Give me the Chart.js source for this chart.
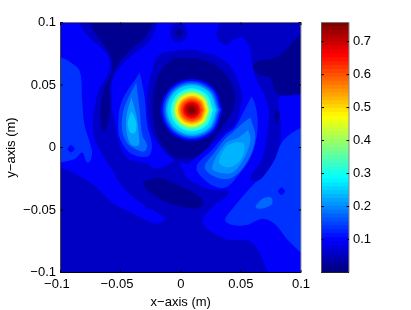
<!DOCTYPE html>
<html>
<head>
<meta charset="utf-8">
<style>
body { margin: 0; background: #fff; }
canvas { position: absolute; left: 0; top: 0; }
</style>
<script src="https://cdn.jsdelivr.net/npm/chart.js@4"></script>
</head>
<body>
<canvas id="field" width="411" height="310"></canvas>
<canvas id="bar" width="411" height="310"></canvas>
<script>
// tick values and labels
const xTickValues = [-0.1, -0.05, 0, 0.05, 0.1];
const xTickLabels = ['\u22120.1  ', '\u22120.05  ', '0', '0.05', '0.1'];
const yTickValues = [-0.1, -0.05, 0, 0.05, 0.1];
const yTickLabels = ['\u22120.1', '\u22120.05', '0', '0.05', '0.1'];
const barTickValues = [0.1, 0.2, 0.3, 0.4, 0.5, 0.6, 0.7];
const barTickLabels = ['0.1', '0.2', '0.3', '0.4', '0.5', '0.6', '0.7'];

// top edge of each colour step in the colour bar
const barSteps = [.0118,.0237,.0355,.0474,.0592,.0711,.0829,.0948,.1066,.1184,.1303,.1421,.1540,.1658,.1777,.1895,
  .2014,.2132,.2251,.2369,.2487,.2606,.2724,.2843,.2961,.3080,.3198,.3317,.3435,.3553,.3672,.3790,
  .3909,.4027,.4146,.4264,.4383,.4501,.4620,.4738,.4856,.4975,.5093,.5212,.5330,.5449,.5567,.5686,
  .5804,.5923,.6041,.6159,.6278,.6396,.6515,.6633,.6752,.6870,.6989,.7107,.7226,.7344,.7463,.758];

// contour outlines, x,y in metres
const base = [[-0.2,-0.2],[0.2,-0.2],[0.2,0.2],[-0.2,0.2]];
const upper = [[-.105,-.016],[-.100,-.016],[-.082,-.024],[-.070,-.032],[-.057,-.044],[-.037,-.054],[-.020,-.061],[-.013,-.057],[-.023,-.050],[-.043,-.037],[-.055,-.020],[-.044,-.018],[-.016,-.016],[-.003,-.010],[.003,-.020],[.020,-.032],[.037,-.032],[.039,-.038],[.028,-.046],[.018,-.060],[.037,-.073],[.059,-.076],[.073,-.100],[.083,-.115],[.108,-.115],[.108,.106],[-.109,.106]];
const leftPatch = [[-.105,.072],[-.100,.072],[-.093,.069],[-.084,.061],[-.082,.037],[-.080,.018],[-.074,-.002],[-.075,-.010],[-.078,-.012],[-.082,-.004],[-.088,-.009],[-.100,-.012],[-.105,-.012]];
const leftSpot = [[-.088,-.001],[-.091,.002],[-.094,-.001],[-.091,-.004]];
const topDark = [[-.088,.104],[-.076,.088],[-.063,.077],[-.059,.069],[-.060,.060],[-.068,.046],[-.072,.030],[-.073,.022],[-.072,.008],[-.066,-.004],[-.057,-.018],[-.045,-.032],[-.034,-.042],[-.026,-.049],[-.013,-.030],[-.026,-.014],[-.032,-.012],[-.045,-.008],[-.052,.006],[-.055,.022],[-.057,.030],[-.057,.053],[-.053,.061],[-.043,.072],[-.026,.085],[-.018,.101],[-.013,.106]];
const topSpot = [[-.062,.064],[-.065,.067],[-.068,.064],[-.065,.061]];
const topDarkest = [[-.080,.106],[-.070,.090],[-.061,.078],[-.057,.069],[-.058,.058],[-.064,.046],[-.067,.028],[-.064,.012],[-.059,.028],[-.059,.050],[-.054,.064],[-.043,.077],[-.030,.088],[-.022,.101],[-.019,.106]];
const rightDark = [[.034,.106],[.030,.092],[.032,.085],[.038,.082],[.045,.087],[.052,.088],[.058,.078],[.059,.068],[.063,.054],[.070,.041],[.073,.030],[.072,.022],[.072,.012],[.068,-.008],[.060,-.020],[.058,-.026],[.068,-.024],[.078,-.010],[.083,.006],[.083,.022],[.081,.038],[.084,.041],[.099,.042],[.109,.044],[.109,.106]];
const rightDarkest = [[.109,.098],[.099,.090],[.081,.073],[.064,.069],[.060,.064],[.066,.058],[.074,.056],[.078,.046],[.082,.042],[.099,.043],[.109,.045]];
const rightSpot = [[.082,.025],[.080,.031],[.078,.025],[.080,.019]];
const crownBlob = [[.006,.092],[.003,.098],[-.003,.100],[-.008,.096],[-.008,.088],[-.003,.084],[.003,.086]];
const crownSpot = [[.002,.092],[-.001,.095],[-.004,.092],[-.001,.089]];
const ringOuter = [[-.001,.078],[.012,.078],[.037,.069],[.049,.050],[.051,.037],[.045,.018],[.035,.004],[.020,-.010],[-.001,-.012],[-.018,.002],[-.026,.018],[-.028,.040],[-.024,.061],[-.018,.074]];
const ringInner = [[-.005,.072],[.020,.070],[.038,.058],[.045,.042],[.043,.029],[.031,.012],[.016,-.006],[-.005,-.008],[-.019,.008],[-.023,.026],[-.022,.048],[-.015,.064]];
const lowerRight = [[.109,.018],[.101,.016],[.093,.012],[.084,.004],[.078,-.010],[.068,-.024],[.061,-.029],[.043,-.049],[.037,-.058],[.043,-.062],[.055,-.062],[.068,-.057],[.078,-.061],[.089,-.074],[.101,-.085],[.109,-.092]];
const lowerBlob = [[.062,-.047],[.068,-.041],[.075,-.040],[.076,-.045],[.071,-.048],[.064,-.049]];
const lowerSpotA = [[.087,-.035],[.084,-.032],[.081,-.035],[.084,-.038]];
const lowerSpotB = [[.067,-.065],[.063,-.061],[.059,-.065],[.063,-.069]];
const hollow = [[-.032,-.028],[-.018,-.024],[-.005,-.029],[.012,-.037],[.019,-.044],[.012,-.049],[-.005,-.046],[-.018,-.041],[-.028,-.034]];
const leftLobe3 = [[-.034,.060],[-.049,.037],[-.052,.018],[-.050,.006],[-.041,-.005],[-.027,-.007],[-.024,.002],[-.028,.018],[-.030,.040]];
const leftLobe4 = [[-.037,.052],[-.047,.032],[-.049,.016],[-.045,.004],[-.036,-.002],[-.030,-.003],[-.028,.002],[-.032,.010],[-.034,.029]];
const leftLobe5 = [[-.041,.040],[-.045,.026],[-.045,.012],[-.041,.002],[-.035,.002],[-.035,.012],[-.037,.026]];
const leftLobe6 = [[-.041,.029],[-.044,.020],[-.042,.012],[-.038,.012],[-.037,.020]];
const rightLobe2 = [[.056,.046],[.050,.033],[.046,.020],[.037,.012],[.024,.001],[.003,-.020],[.020,-.032],[.037,-.034],[.051,-.028],[.060,-.020],[.068,-.008],[.072,.012],[.073,.030],[.068,.042]];
const rightLobe3 = [[.059,.041],[.053,.030],[.045,.016],[.037,.010],[.026,-.002],[.013,-.016],[.024,-.029],[.037,-.032],[.048,-.022],[.058,-.008],[.063,.008],[.064,.022],[.062,.034]];
const rightLobe4 = [[.058,.024],[.052,.020],[.043,.012],[.037,.007],[.028,-.004],[.020,-.016],[.030,-.024],[.043,-.024],[.056,-.010],[.062,.008]];
const rightLobe5 = [[.056,.014],[.048,.008],[.037,.003],[.026,-.016],[.032,-.020],[.043,-.020],[.053,-.008],[.058,.006]];
const rightLobe6 = [[.052,.004],[.045,.004],[.037,.000],[.032,-.012],[.039,-.016],[.048,-.012],[.052,-.006],[.053,.000]];
const peak2 = [[.0350,.0301],[.0275,.0477],[.0092,.0550],[-.0091,.0477],[-.0166,.0301],[-.0091,.0125],[.0092,.0052],[.0275,.0125]];
const peak3 = [[.0334,.0301],[.0263,.0466],[.0092,.0534],[-.0079,.0466],[-.0150,.0301],[-.0079,.0136],[.0092,.0068],[.0263,.0136]];
const peak4 = [[.0321,.0301],[.0254,.0457],[.0092,.0522],[-.0070,.0457],[-.0137,.0301],[-.0070,.0145],[.0092,.0080],[.0254,.0145]];
const peak5 = [[.0309,.0301],[.0245,.0449],[.0092,.0510],[-.0061,.0449],[-.0125,.0301],[-.0061,.0153],[.0092,.0092],[.0245,.0153]];
const peak6 = [[.0296,.0301],[.0236,.0440],[.0092,.0498],[-.0052,.0440],[-.0112,.0301],[-.0052,.0162],[.0092,.0104],[.0236,.0162]];
const peak7 = [[.0271,.0301],[.0219,.0423],[.0092,.0474],[-.0035,.0423],[-.0087,.0301],[-.0035,.0179],[.0092,.0128],[.0219,.0179]];
const peak8 = [[.0259,.0301],[.0210,.0415],[.0092,.0462],[-.0026,.0415],[-.0075,.0301],[-.0026,.0187],[.0092,.0140],[.0210,.0187]];
const peak9 = [[.0246,.0301],[.0201,.0406],[.0092,.0450],[-.0017,.0406],[-.0062,.0301],[-.0017,.0196],[.0092,.0152],[.0201,.0196]];
const peak10 = [[.0234,.0301],[.0192,.0398],[.0092,.0438],[-.0008,.0398],[-.0050,.0301],[-.0008,.0204],[.0092,.0164],[.0192,.0204]];
const peak11 = [[.0227,.0301],[.0187,.0393],[.0092,.0431],[-.0003,.0393],[-.0043,.0301],[-.0003,.0209],[.0092,.0171],[.0187,.0209]];
const peak12 = [[.0221,.0301],[.0183,.0389],[.0092,.0425],[.0001,.0389],[-.0037,.0301],[.0001,.0213],[.0092,.0177],[.0183,.0213]];
const peak13 = [[.0209,.0301],[.0175,.0380],[.0092,.0413],[.0009,.0380],[-.0025,.0301],[.0009,.0222],[.0092,.0189],[.0175,.0222]];
const peak14 = [[.0196,.0301],[.0166,.0372],[.0092,.0401],[.0018,.0372],[-.0012,.0301],[.0018,.0230],[.0092,.0201],[.0166,.0230]];
const peak15 = [[.0184,.0301],[.0157,.0363],[.0092,.0389],[.0027,.0363],[.0000,.0301],[.0027,.0239],[.0092,.0213],[.0157,.0239]];
const peak16 = [[.0167,.0301],[.0145,.0352],[.0092,.0373],[.0039,.0352],[.0017,.0301],[.0039,.0250],[.0092,.0229],[.0145,.0250]];
const peak17 = [[.0155,.0301],[.0136,.0344],[.0092,.0361],[.0048,.0344],[.0029,.0301],[.0048,.0258],[.0092,.0241],[.0136,.0258]];
const peak18 = [[.0138,.0301],[.0124,.0332],[.0092,.0345],[.0060,.0332],[.0046,.0301],[.0060,.0270],[.0092,.0257],[.0124,.0270]];
const peak19 = [[.0117,.0301],[.0110,.0318],[.0092,.0325],[.0074,.0318],[.0067,.0301],[.0074,.0284],[.0092,.0277],[.0110,.0284]];

// painted in this order, second entry is the contour band (0 to 19)
const layers = [
  [base, 1], [upper, 2], [leftPatch, 3], [leftSpot, 2],
  [topDark, 1], [topSpot, 2], [topDarkest, 0],
  [rightDark, 1], [rightDarkest, 0], [rightSpot, 0], [crownBlob, 1], [crownSpot, 0],
  [ringOuter, 1], [ringInner, 0],
  [lowerRight, 3], [lowerBlob, 4], [lowerSpotA, 2], [lowerSpotB, 2], [hollow, 0],
  [leftLobe3, 3], [leftLobe4, 4], [leftLobe5, 5], [leftLobe6, 5.8],
  [rightLobe2, 2], [rightLobe3, 3], [rightLobe4, 4], [rightLobe5, 4.8], [rightLobe6, 5.4],
  [peak2, 2], [peak3, 3], [peak4, 4], [peak5, 5], [peak6, 6], [peak7, 7], [peak8, 8], [peak9, 9],
  [peak10, 10], [peak11, 11], [peak12, 12], [peak13, 13], [peak14, 14], [peak15, 15], [peak16, 16],
  [peak17, 17], [peak18, 18], [peak19, 19]
];

function jet(t) {
  const c = v => Math.round(255 * Math.max(0, Math.min(1, v)));
  const r = c(Math.min(4 * t - 1.5, -4 * t + 4.5));
  const g = c(Math.min(4 * t - 0.5, -4 * t + 3.5));
  const b = c(Math.min(4 * t + 0.5, -4 * t + 2.5));
  return `rgb(${r},${g},${b})`;
}

Chart.defaults.font.family = "'Liberation Sans', Arial, sans-serif";
Chart.defaults.font.size = 13;
Chart.defaults.color = '#000';

// matlab style frame with ticks pointing inwards
function frameTicks(xScale, yScale, xValues, yValues, colors) {
  return {
    id: 'frameTicks',
    afterDatasetsDraw(chart) {
      const { ctx, chartArea: a } = chart;
      ctx.save();
      ctx.lineWidth = 1;
      const line = (x1, y1, x2, y2, color) => {
        ctx.strokeStyle = color;
        ctx.beginPath();
        ctx.moveTo(x1, y1);
        ctx.lineTo(x2, y2);
        ctx.stroke();
      };
      line(a.left, a.top, a.right, a.top, colors.top);
      line(a.right, a.top, a.right, a.bottom, colors.right);
      line(a.left, a.top, a.left, a.bottom, colors.left);
      line(a.left, a.bottom, a.right, a.bottom, colors.bottom);
      xValues.forEach(v => {
        const x = chart.scales[xScale].getPixelForValue(v);
        line(x, a.bottom, x, a.bottom - 2.5, '#000');
        line(x, a.top, x, a.top + 2.5, '#000');
      });
      yValues.forEach(v => {
        const y = chart.scales[yScale].getPixelForValue(v);
        line(a.left, y, a.left + 2.5, y, '#000');
        line(a.right, y, a.right - 2.5, y, '#000');
      });
      ctx.restore();
    }
  };
}

// Chart.js paints the first dataset last, so the list is reversed
const fieldSets = layers.slice().reverse().map(([pts, band]) => ({
  data: pts.concat([pts[0]]).map(p => ({ x: p[0], y: p[1] })),
  showLine: true,
  fill: 'shape',
  tension: 0.35,
  borderWidth: 0,
  pointRadius: 0,
  backgroundColor: jet(Math.min(1, (band + 0.3) / 19))
}));

new Chart(document.getElementById('field'), {
  type: 'scatter',
  data: { datasets: fieldSets },
  plugins: [frameTicks('x', 'y', xTickValues, yTickValues, { top: '#777', right: '#999', left: '#444', bottom: '#000' })],
  options: {
    responsive: false,
    animation: false,
    layout: { padding: { left: 0, top: 22.5, right: 110, bottom: 0 } },
    plugins: { legend: { display: false }, tooltip: { enabled: false } },
    scales: {
      x: {
        type: 'linear',
        min: -0.1,
        max: 0.1,
        grid: { display: false, drawTicks: false },
        border: { display: false },
        afterBuildTicks: s => { s.ticks = xTickValues.map(value => ({ value })); },
        afterFit: s => { s.height = 37.5; },
        ticks: { autoSkip: false, maxRotation: 0, padding: 4, callback: (v, i) => xTickLabels[i] },
        title: { display: true, text: 'x\u2212axis (m)', color: '#000', padding: { top: 0, bottom: 0 } }
      },
      y: {
        type: 'linear',
        min: -0.1,
        max: 0.1,
        grid: { display: false, drawTicks: false },
        border: { display: false },
        afterBuildTicks: s => { s.ticks = yTickValues.map(value => ({ value })); },
        afterFit: s => { s.width = 60.5; },
        ticks: { autoSkip: false, padding: 4.5, callback: (v, i) => yTickLabels[i] },
        title: { display: true, text: 'y\u2212axis (m)', color: '#000', padding: { top: 4, bottom: 0 } }
      }
    }
  }
});

new Chart(document.getElementById('bar'), {
  type: 'bar',
  data: {
    labels: [''],
    datasets: barSteps.map((top, i) => ({
      data: [[0, top]],
      grouped: false,
      barPercentage: 1,
      categoryPercentage: 1,
      backgroundColor: jet(i / (barSteps.length - 1))
    }))
  },
  plugins: [frameTicks('x', 'y', [], barTickValues, { top: '#777', right: '#888', left: '#555', bottom: '#222' })],
  options: {
    responsive: false,
    animation: false,
    layout: { padding: { left: 321.5, top: 22.5, right: 0, bottom: 37.5 } },
    plugins: { legend: { display: false }, tooltip: { enabled: false } },
    scales: {
      x: { display: false },
      y: {
        position: 'right',
        min: 0,
        max: 0.758,
        grid: { display: false, drawTicks: false },
        border: { display: false },
        afterBuildTicks: s => { s.ticks = barTickValues.map(value => ({ value })); },
        afterFit: s => { s.width = 62; },
        ticks: { autoSkip: false, padding: 4, callback: (v, i) => barTickLabels[i] }
      }
    }
  }
});
</script>
</body>
</html>
